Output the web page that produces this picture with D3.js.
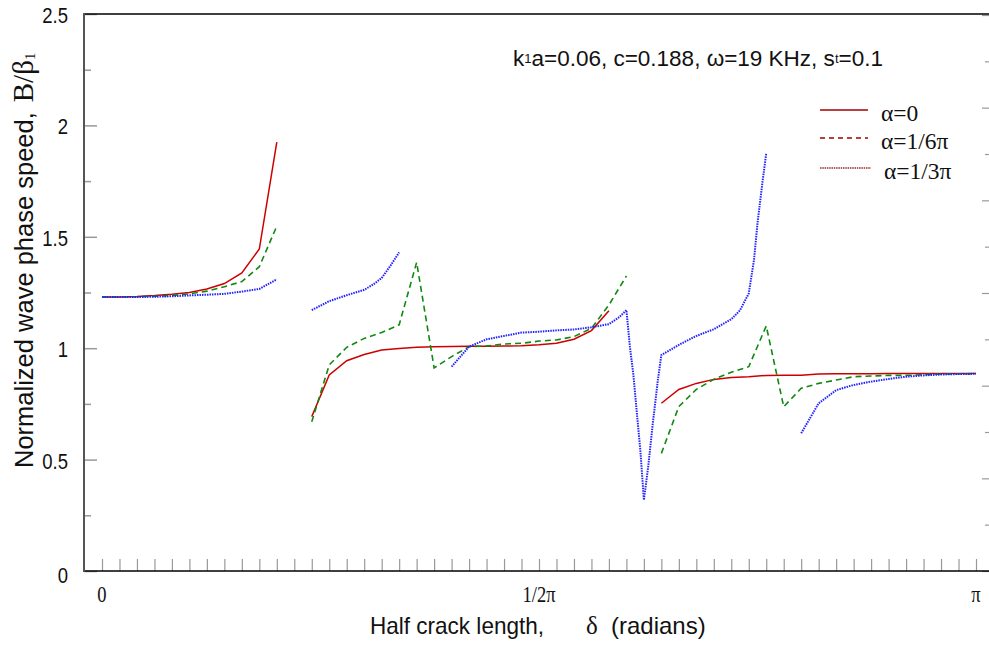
<!DOCTYPE html>
<html>
<head>
<meta charset="utf-8">
<script src="https://cdn.jsdelivr.net/npm/d3@7"></script>
<style>
  body { margin: 0; background: #fff; }
  svg { display: block; }
  text { font-family: Arial, "Liberation Sans", sans-serif; fill: #111; }
  .serif { font-family: "Times New Roman", "Liberation Serif", serif; }
</style>
</head>
<body>
<svg id="chart" width="989" height="645"></svg>
<script>
// x is given in steps of pi/50 (the tick spacing of the bottom axis)
var STEP = Math.PI / 50;

// alpha = 0 (red, solid)
var red1 = [[0,1.230],[1,1.230],[2,1.232],[3,1.236],[4,1.242],[5,1.250],[6,1.266],[7,1.290],[8,1.338],[9,1.445],[10,1.925]];
var red2 = [[12,0.693],[13,0.880],[14,0.944],[15,0.972],[16,0.992],[17,0.999],[18,1.004],[19,1.007],[20,1.008],[21,1.009],
            [22,1.009],[23,1.010],[24,1.011],[25,1.015],[26,1.022],[27,1.040],[28,1.079],[29,1.168]];
var red3 = [[32,0.753],[33,0.815],[34,0.842],[35,0.860],[36,0.868],[37,0.872],[38,0.878],[39,0.879],[40,0.879],[41,0.884],
            [42,0.885],[43,0.885],[44,0.885],[45,0.886],[46,0.886],[47,0.886],[48,0.887],[49,0.887],[50,0.887]];

// alpha = pi/6 (green, dashed)
var green1 = [[0,1.230],[1,1.230],[2,1.231],[3,1.233],[4,1.237],[5,1.244],[6,1.256],[7,1.276],[8,1.299],[9,1.366],[10,1.548]];
var green2 = [[12,0.670],[13,0.925],[14,1.004],[15,1.044],[16,1.070],[17,1.105],[18,1.385],[19,0.912],[20,0.962],[21,1.007],
              [22,1.010],[23,1.019],[24,1.022],[25,1.032],[26,1.037],[27,1.052],[28,1.089],[29,1.194],[30,1.324]];
var green3 = [[32,0.528],[33,0.738],[34,0.815],[35,0.860],[36,0.892],[37,0.917],[38,1.100],[39,0.737],[40,0.820],[41,0.842],
              [42,0.857],[43,0.872],[44,0.875],[45,0.878],[46,0.878],[47,0.881],[48,0.884],[49,0.885],[50,0.886]];

// alpha = pi/3 (blue, dotted)
var blue1 = [[0,1.230],[1,1.230],[2,1.230],[3,1.231],[4,1.233],[5,1.237],[6,1.240],[7,1.244],[8,1.254],[9,1.266],[10,1.309]];
var blue2 = [[12,1.171],[13,1.211],[14,1.238],[15,1.262],[15.5,1.285],[16,1.315],[16.5,1.370],[17,1.430]];
var blue3 = [[20,0.917],[21,1.007],[22,1.040],[23,1.055],[24,1.070],[25,1.074],[26,1.080],[27,1.084],[28,1.094],[29,1.108],
             [29.6,1.140],[30,1.171],[30.2,1.007],[30.4,0.880],[30.6,0.708],[30.8,0.540],[31,0.319],[31.25,0.470],[31.5,0.655],
             [31.8,0.857],[32,0.969],[33,1.015],[34,1.055],[35,1.085],[36,1.130],[36.5,1.170],[37,1.246],[37.3,1.396],
             [37.5,1.561],[37.8,1.755],[38,1.875]];
var blue4 = [[40,0.618],[41,0.753],[42,0.812],[43,0.835],[44,0.850],[45,0.862],[46,0.872],[47,0.878],[48,0.882],[49,0.884],[50,0.885]];

var yMajor = [0, 0.5, 1, 1.5, 2, 2.5];
var yMinor = [0.25, 0.75, 1.25, 1.75, 2.25];
var xLabels = [[0, "0"], [25, "1/2\u03c0"], [50, "\u03c0"]];
var legendNames = ["\u03b1=0", "\u03b1=1/6\u03c0", "\u03b1=1/3\u03c0"];

// tick labels in the source are a little stretched vertically
var SY = 1.2;

var svg = d3.select("#chart");

var x = d3.scaleLinear().domain([0, Math.PI]).range([102, 976]);
var y = d3.scaleLinear().domain([0, 2.5]).range([571, 14]);
// odd tick marks running down the right edge
var yRight = d3.scaleLinear().domain([0, 12]).range([571, 15]);

function stretched(px, py) {
  return svg.append("g").attr("transform", "translate(" + px + "," + py + ") scale(1," + SY + ")");
}

// bottom ticks (inward)
svg.append("g")
  .attr("transform", "translate(0,571)")
  .call(d3.axisBottom(x).tickValues(d3.range(0, 51).map(function(k) { return k * STEP; }))
    .tickSize(-12).tickSizeOuter(0).tickFormat(""))
  .call(function(g) {
    g.select(".domain").remove();
    g.selectAll(".tick line").attr("stroke", "#999").attr("stroke-width", 1.2);
  });

// left ticks (inward)
svg.append("g")
  .attr("transform", "translate(84,0)")
  .call(d3.axisLeft(y).tickValues(yMajor).tickSize(-13).tickFormat(""))
  .call(function(g) {
    g.select(".domain").remove();
    g.selectAll(".tick line").attr("stroke", "#999").attr("stroke-width", 1.5);
  });
svg.append("g")
  .attr("transform", "translate(84,0)")
  .call(d3.axisLeft(y).tickValues(yMinor).tickSize(-7).tickFormat(""))
  .call(function(g) {
    g.select(".domain").remove();
    g.selectAll(".tick line").attr("stroke", "#999").attr("stroke-width", 1.5);
  });

// right edge ticks
svg.append("g")
  .attr("transform", "translate(989,0)")
  .call(d3.axisLeft(yRight).tickValues(d3.range(0, 13)).tickSize(0).tickFormat(""))
  .call(function(g) {
    g.select(".domain").remove();
    g.selectAll(".tick line")
      .attr("x2", function(d) { return d % 2 === 0 ? -7 : -4; })
      .attr("stroke", "#999").attr("stroke-width", 1.2);
  });

// frame lines
svg.append("line").attr("x1", 84).attr("x2", 989).attr("y1", 14).attr("y2", 14)
  .attr("stroke", "#000").attr("stroke-width", 1.5);
svg.append("line").attr("x1", 84).attr("x2", 989).attr("y1", 571).attr("y2", 571)
  .attr("stroke", "#000").attr("stroke-width", 1.5);
svg.append("line").attr("x1", 84).attr("x2", 84).attr("y1", 13).attr("y2", 572)
  .attr("stroke", "#555").attr("stroke-width", 2);

// y tick labels
yMajor.forEach(function(d) {
  stretched(68, y(d) + (d === 0 ? 12 : 9)).append("text")
    .attr("text-anchor", "end").style("font-size", "18.5px")
    .text(d);
});

// x tick labels
xLabels.forEach(function(d) {
  stretched(x(d[0] * STEP), 602).append("text")
    .attr("class", "serif")
    .attr("text-anchor", "middle").style("font-size", "18.5px")
    .text(d[1]);
});

// series
var line = d3.line()
  .x(function(d) { return x(d[0] * STEP); })
  .y(function(d) { return y(d[1]); });

var series = [
  { segs: [red1, red2, red3], color: "#cc0000", dash: null, width: 1.5 },
  { segs: [green1, green2, green3], color: "#118811", dash: "6,4", width: 1.6 },
  { segs: [blue1, blue2, blue3, blue4], color: "#2222ff", dash: "1.5,1", width: 2 }
];
series.forEach(function(s) {
  s.segs.forEach(function(seg) {
    svg.append("path").datum(seg)
      .attr("d", line)
      .attr("fill", "none")
      .attr("stroke", s.color)
      .attr("stroke-width", s.width)
      .attr("stroke-dasharray", s.dash);
  });
});

// legend
var legendY = [110, 138, 168];
var legendDash = [null, "5,4", "1.5,0.8"];
var legendColor = ["#a00000", "#a00000", "#b06060"];
legendNames.forEach(function(name, i) {
  svg.append("line")
    .attr("x1", 820).attr("x2", 868 + (i === 2 ? 3 : 0))
    .attr("y1", legendY[i]).attr("y2", legendY[i])
    .attr("stroke", legendColor[i]).attr("stroke-width", i === 2 ? 2 : 1.5)
    .attr("stroke-dasharray", legendDash[i]);
  svg.append("text").attr("class", "serif")
    .attr("x", 881 + (i === 2 ? 3 : 0)).attr("y", legendY[i] + 11)
    .style("font-size", "23.5px")
    .text(name);
});

// annotation
var note = svg.append("text").attr("x", 513).attr("y", 66).style("font-size", "22.5px");
note.append("tspan").text("k");
note.append("tspan").style("font-size", "13px").attr("dy", -3).text("1");
note.append("tspan").attr("dy", 3).text("a=0.06, c=0.188, \u03c9=19 KHz, s");
note.append("tspan").style("font-size", "13px").attr("dy", -3).text("t");
note.append("tspan").attr("dy", 3).text("=0.1");

// x axis title
svg.append("text").attr("x", 370).attr("y", 634).style("font-size", "24px")
  .attr("textLength", 174).attr("lengthAdjust", "spacingAndGlyphs")
  .text("Half crack length,");
svg.append("text").attr("class", "serif").attr("x", 586).attr("y", 634).style("font-size", "25px")
  .text("\u03b4");
svg.append("text").attr("x", 611).attr("y", 634).style("font-size", "24px")
  .text("(radians)");

// y axis title
var yt = svg.append("text")
  .attr("transform", "translate(33,468) rotate(-90)")
  .style("font-size", "25.5px");
yt.append("tspan").text("Normalized wave phase speed,");
yt.append("tspan").attr("class", "serif").attr("dx", 10).style("font-size", "29px").text("B/\u03b2");
yt.append("tspan").attr("class", "serif").style("font-size", "15px").attr("dy", 2).text("1");
</script>
</body>
</html>
